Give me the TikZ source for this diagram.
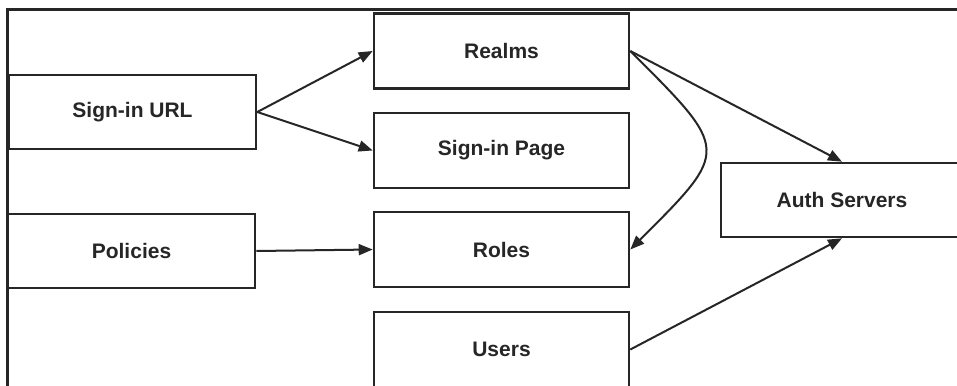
\documentclass[tikz,border=0pt]{standalone}
\usepackage{fontspec}
\setmainfont{Liberation Sans}
\usetikzlibrary{arrows.meta}
\definecolor{ink}{HTML}{262626}
\begin{document}
\begin{tikzpicture}[x=0.5pt,y=-0.5pt,
  box/.style={draw=ink, line width=1.3pt, fill=white, text=ink,
    font=\bfseries\fontsize{10.5pt}{12pt}\selectfont, inner sep=0pt},
  midbox/.style={box, minimum width=127.5pt, minimum height=37.5pt},
  leftbox/.style={box, minimum width=123.5pt, minimum height=37pt},
  conn/.style={draw=ink, line width=1pt, -{Triangle[length=7pt,width=5.5pt]}}]
\useasboundingbox (0,0) rectangle (957,385);
\clip (0,0) rectangle (957,385);
\fill[white] (0,0) rectangle (957,385);
\draw[ink, line width=1.5pt] (957,10) -- (7,10) -- (7,390);
\node[leftbox] (url) at (132.5,112) {Sign-in URL};
\node[leftbox] (pol) at (131.5,251) {Policies};
\node[midbox] (realms) at (501.5,51) {Realms};
\node[midbox] (page) at (501.5,150.5) {Sign-in Page};
\node[midbox] (roles) at (501.5,249.5) {Roles};
\node[midbox] (users) at (501.5,349.5) {Users};
\node[box, minimum width=121pt, minimum height=37pt] (auth) at (842,200) {Auth Servers};
\draw[conn] (url.east) -- (realms.west);
\draw[conn] (url.east) -- (page.west);
\draw[conn] (pol.east) -- (roles.west);
\draw[conn] (realms.east) -- (auth.north);
\draw[conn] (realms.east) .. controls +(100,100) and +(100,-100) .. (roles.east);
\draw[conn] (users.east) -- (auth.south);
\end{tikzpicture}
\end{document}
